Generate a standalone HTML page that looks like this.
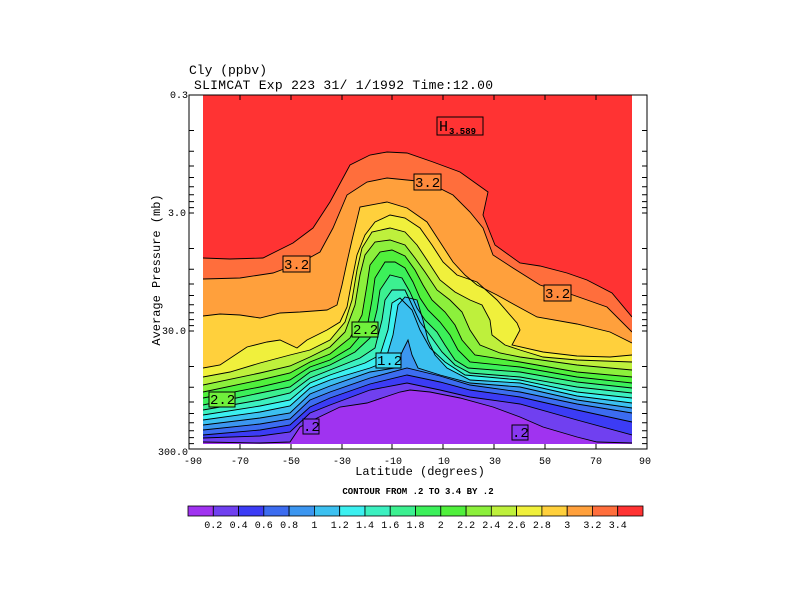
<!DOCTYPE html>
<html><head><meta charset="utf-8"><style>
html,body{margin:0;padding:0;background:#fff;}
svg{display:block;}
text{font-family:"Liberation Mono",monospace;fill:#000;}
</style></head><body>
<svg width="792" height="612" viewBox="0 0 792 612" xmlns="http://www.w3.org/2000/svg">
<defs><clipPath id="c"><rect x="203" y="95" width="429" height="349"/></clipPath></defs>
<g clip-path="url(#c)">
<rect x="203" y="95" width="429" height="349" fill="#ff3333"/>
<polygon fill="#ff6e3c" points="203,258 230,259 263,258 293,243 313,228 330,202 350,165 370,155 387,152 407,153 433,162 460,172 488,192 483,215 495,245 520,263 540,266 567,273 587,280 612,293 632,317 640,450 195,450"/>
<polygon fill="#ffa03c" points="203,279 240,278 273,273 300,263 320,252 333,228 347,195 367,182 387,178 407,180 427,182 453,195 470,212 483,228 493,255 513,268 540,285 573,295 607,307 632,332 640,450 195,450"/>
<polygon fill="#ffd03c" points="203,316 220,314 240,315 260,318 280,313 300,312 327,310 337,305 342,285 347,262 352,240 360,207 387,202 407,208 427,222 440,242 453,262 465,275 477,285 497,295 515,305 537,317 577,324 610,332 632,343 640,450 195,450"/>
<polygon fill="#f0f03c" points="203,368 220,365 247,347 267,342 280,340 297,348 307,340 327,330 340,322 347,307 352,280 357,255 365,235 375,222 390,215 405,218 420,228 432,245 443,262 457,275 477,282 497,300 517,323 520,330 512,345 543,352 577,356 610,357 632,355 640,450 195,450"/>
<polygon fill="#bef03c" points="203,377 230,372 260,363 290,355 310,350 330,340 345,322 352,300 357,270 362,248 372,232 390,228 405,232 417,245 427,260 440,280 455,292 470,300 482,305 490,320 492,335 505,345 520,350 543,357 577,360 632,362 640,450 195,450"/>
<polygon fill="#8cf03c" points="203,385 260,373 290,366 310,357 330,347 345,332 355,305 360,275 365,255 375,242 390,240 405,245 415,258 425,272 437,290 450,300 462,312 470,330 480,345 500,353 520,357 577,365 632,370 640,450 195,450"/>
<polygon fill="#50f03c" points="203,392 260,380 290,373 310,362 330,354 350,338 362,315 367,285 370,265 380,252 392,250 405,256 415,270 423,285 432,300 445,312 455,325 462,340 475,355 520,362 577,372 632,377 640,450 195,450"/>
<polygon fill="#3cf05a" points="203,398 260,387 290,380 310,367 330,360 350,348 367,328 372,300 375,278 385,262 395,262 405,268 413,282 420,298 428,310 440,322 450,335 458,350 470,362 520,367 577,377 632,383 640,450 195,450"/>
<polygon fill="#3cf090" points="203,405 260,393 290,387 310,372 330,365 355,352 370,338 377,310 380,290 390,275 402,278 410,292 417,308 425,320 437,332 445,345 455,360 468,368 520,372 577,382 632,388 640,450 195,450"/>
<polygon fill="#3cf0c0" points="203,410 260,400 290,393 310,378 330,370 360,358 375,348 382,320 385,300 392,290 405,290 412,305 420,322 432,338 442,352 455,365 470,373 520,377 577,387 632,393 640,450 195,450"/>
<polygon fill="#3cf0f0" points="203,415 260,406 290,400 310,383 330,375 365,363 380,355 388,330 392,303 400,298 412,310 420,330 430,348 445,362 465,375 520,380 577,392 632,398 640,450 195,450"/>
<polygon fill="#3cc0f0" points="203,420 260,412 290,406 310,388 330,380 370,368 385,362 393,335 398,305 405,297 417,300 423,320 428,340 435,355 447,368 470,380 520,383 577,396 632,403 640,450 195,450"/>
<polygon fill="#3c96f0" points="203,425 260,418 290,413 310,394 330,386 370,372 395,368 403,350 408,340 412,355 418,368 440,375 470,383 520,387 577,400 632,408 640,450 195,450"/>
<polygon fill="#3c6cf0" points="203,430 260,424 290,419 310,400 330,392 370,378 407,368 440,376 470,385 520,392 577,404 632,413 640,450 195,450"/>
<polygon fill="#3c3cf5" points="203,435 260,430 290,425 310,407 330,398 370,384 407,375 440,382 470,390 520,397 577,410 632,422 640,450 195,450"/>
<polygon fill="#7040f0" points="203,438 260,436 290,432 310,413 330,405 370,390 407,383 440,390 470,397 520,404 577,420 632,435 640,450 195,450"/>
<polygon fill="#a033f0" points="203,442 260,443 290,442 300,427 313,420 340,407 367,403 400,392 410,390 430,392 460,398 493,407 520,417 543,427 577,437 597,442 632,443 640,450 195,450"/>
<g fill="none" stroke="#000" stroke-width="0.9">
<polyline points="203,258 230,259 263,258 293,243 313,228 330,202 350,165 370,155 387,152 407,153 433,162 460,172 488,192 483,215 495,245 520,263 540,266 567,273 587,280 612,293 632,317"/>
<polyline points="203,279 240,278 273,273 300,263 320,252 333,228 347,195 367,182 387,178 407,180 427,182 453,195 470,212 483,228 493,255 513,268 540,285 573,295 607,307 632,332"/>
<polyline points="203,316 220,314 240,315 260,318 280,313 300,312 327,310 337,305 342,285 347,262 352,240 360,207 387,202 407,208 427,222 440,242 453,262 465,275 477,285 497,295 515,305 537,317 577,324 610,332 632,343"/>
<polyline points="203,368 220,365 247,347 267,342 280,340 297,348 307,340 327,330 340,322 347,307 352,280 357,255 365,235 375,222 390,215 405,218 420,228 432,245 443,262 457,275 477,282 497,300 517,323 520,330 512,345 543,352 577,356 610,357 632,355"/>
<polyline points="203,377 230,372 260,363 290,355 310,350 330,340 345,322 352,300 357,270 362,248 372,232 390,228 405,232 417,245 427,260 440,280 455,292 470,300 482,305 490,320 492,335 505,345 520,350 543,357 577,360 632,362"/>
<polyline points="203,385 260,373 290,366 310,357 330,347 345,332 355,305 360,275 365,255 375,242 390,240 405,245 415,258 425,272 437,290 450,300 462,312 470,330 480,345 500,353 520,357 577,365 632,370"/>
<polyline points="203,392 260,380 290,373 310,362 330,354 350,338 362,315 367,285 370,265 380,252 392,250 405,256 415,270 423,285 432,300 445,312 455,325 462,340 475,355 520,362 577,372 632,377"/>
<polyline points="203,398 260,387 290,380 310,367 330,360 350,348 367,328 372,300 375,278 385,262 395,262 405,268 413,282 420,298 428,310 440,322 450,335 458,350 470,362 520,367 577,377 632,383"/>
<polyline points="203,405 260,393 290,387 310,372 330,365 355,352 370,338 377,310 380,290 390,275 402,278 410,292 417,308 425,320 437,332 445,345 455,360 468,368 520,372 577,382 632,388"/>
<polyline points="203,410 260,400 290,393 310,378 330,370 360,358 375,348 382,320 385,300 392,290 405,290 412,305 420,322 432,338 442,352 455,365 470,373 520,377 577,387 632,393"/>
<polyline points="203,415 260,406 290,400 310,383 330,375 365,363 380,355 388,330 392,303 400,298 412,310 420,330 430,348 445,362 465,375 520,380 577,392 632,398"/>
<polyline points="203,420 260,412 290,406 310,388 330,380 370,368 385,362 393,335 398,305 405,297 417,300 423,320 428,340 435,355 447,368 470,380 520,383 577,396 632,403"/>
<polyline points="203,425 260,418 290,413 310,394 330,386 370,372 395,368 403,350 408,340 412,355 418,368 440,375 470,383 520,387 577,400 632,408"/>
<polyline points="203,430 260,424 290,419 310,400 330,392 370,378 407,368 440,376 470,385 520,392 577,404 632,413"/>
<polyline points="203,435 260,430 290,425 310,407 330,398 370,384 407,375 440,382 470,390 520,397 577,410 632,422"/>
<polyline points="203,438 260,436 290,432 310,413 330,405 370,390 407,383 440,390 470,397 520,404 577,420 632,435"/>
<polyline points="203,442 260,443 290,442 300,427 313,420 340,407 367,403 400,392 410,390 430,392 460,398 493,407 520,417 543,427 577,437 597,442 632,443"/>
</g>
</g>

<rect x="189" y="95" width="458" height="354" fill="none" stroke="#000" stroke-width="1"/>
<path stroke="#000" stroke-width="1" fill="none" d="M240,95v5M291,95v5M342,95v5M392,95v5M443,95v5M494,95v5M545,95v5M596,95v5M240,449v-5M291,449v-5M342,449v-5M392,449v-5M443,449v-5M494,449v-5M545,449v-5M596,449v-5
M189,130.5h5M189,151.3h5M189,166h5M189,177.5h5M189,186.8h5M189,194.7h5M189,201.6h5M189,207.6h5M189,213h5M189,248.5h5M189,269.3h5M189,284h5M189,295.5h5M189,304.8h5M189,312.7h5M189,319.6h5M189,325.6h5M189,331h5M189,366.5h5M189,387.3h5M189,402h5M189,413.5h5M189,422.8h5M189,430.7h5M189,437.6h5M189,443.6h5
M647,130.5h-5M647,151.3h-5M647,166h-5M647,177.5h-5M647,186.8h-5M647,194.7h-5M647,201.6h-5M647,207.6h-5M647,213h-5M647,248.5h-5M647,269.3h-5M647,284h-5M647,295.5h-5M647,304.8h-5M647,312.7h-5M647,319.6h-5M647,325.6h-5M647,331h-5M647,366.5h-5M647,387.3h-5M647,402h-5M647,413.5h-5M647,422.8h-5M647,430.7h-5M647,437.6h-5M647,443.6h-5"/>

<g font-size="14">
<rect x="283" y="256" width="27" height="16" fill="#ff8a3c" stroke="#000"/><text x="284" y="269">3.2</text>
<rect x="414" y="174" width="27" height="16" fill="#ff8a3c" stroke="#000"/><text x="415" y="187">3.2</text>
<rect x="544" y="285" width="27" height="16" fill="#ff8a3c" stroke="#000"/><text x="545" y="298">3.2</text>
<rect x="352" y="322" width="26" height="15" fill="#70f03c" stroke="#000"/><text x="353" y="334">2.2</text>
<rect x="376" y="353" width="25" height="15" fill="#3cd8f0" stroke="#000"/><text x="377" y="365">1.2</text>
<rect x="209" y="392" width="26" height="15" fill="#70f03c" stroke="#000"/><text x="210" y="404">2.2</text>
<rect x="303" y="419" width="16" height="15" fill="#8838f0" stroke="#000"/><text x="303" y="431">.2</text>
<rect x="512" y="425" width="16" height="15" fill="#8838f0" stroke="#000"/><text x="512" y="437">.2</text>
<rect x="437" y="117" width="46" height="18" fill="none" stroke="#000"/><text x="439" y="131" font-size="15">H</text><text x="449" y="134" font-size="9" font-weight="bold">3.589</text>
</g>

<text x="189" y="74" font-size="13">Cly (ppbv)</text>
<text x="194" y="89" font-size="13" textLength="299">SLIMCAT Exp 223  31/ 1/1992 Time:12.00</text>
<g font-size="10" text-anchor="end">
<text x="188" y="98">0.3</text>
<text x="186" y="216">3.0</text>
<text x="186" y="334">30.0</text>
<text x="188" y="455">300.0</text>
</g>
<g font-size="10" text-anchor="middle">
<text x="193" y="464">-90</text><text x="240" y="464">-70</text><text x="291" y="464">-50</text><text x="342" y="464">-30</text><text x="393" y="464">-10</text><text x="444" y="464">10</text><text x="495" y="464">30</text><text x="545" y="464">50</text><text x="596" y="464">70</text><text x="645" y="464">90</text>
</g>
<text x="420" y="475" font-size="12" text-anchor="middle">Latitude (degrees)</text>
<text transform="translate(160,270) rotate(-90)" font-size="12" text-anchor="middle">Average Pressure (mb)</text>
<text x="418" y="494" font-size="9" font-weight="bold" text-anchor="middle">CONTOUR FROM .2 TO 3.4 BY .2</text>

<g stroke="#000" stroke-width="0.8">
<rect x="188" y="506" width="25.3" height="10" fill="#a033f0"/>
<rect x="213.3" y="506" width="25.3" height="10" fill="#7040f0"/>
<rect x="238.6" y="506" width="25.3" height="10" fill="#3c3cf5"/>
<rect x="263.8" y="506" width="25.3" height="10" fill="#3c6cf0"/>
<rect x="289.1" y="506" width="25.3" height="10" fill="#3c96f0"/>
<rect x="314.4" y="506" width="25.3" height="10" fill="#3cc0f0"/>
<rect x="339.7" y="506" width="25.3" height="10" fill="#3cf0f0"/>
<rect x="365" y="506" width="25.3" height="10" fill="#3cf0c0"/>
<rect x="390.2" y="506" width="25.3" height="10" fill="#3cf090"/>
<rect x="415.5" y="506" width="25.3" height="10" fill="#3cf05a"/>
<rect x="440.8" y="506" width="25.3" height="10" fill="#50f03c"/>
<rect x="466.1" y="506" width="25.3" height="10" fill="#8cf03c"/>
<rect x="491.3" y="506" width="25.3" height="10" fill="#bef03c"/>
<rect x="516.6" y="506" width="25.3" height="10" fill="#f0f03c"/>
<rect x="541.9" y="506" width="25.3" height="10" fill="#ffd03c"/>
<rect x="567.2" y="506" width="25.3" height="10" fill="#ffa03c"/>
<rect x="592.4" y="506" width="25.3" height="10" fill="#ff6e3c"/>
<rect x="617.7" y="506" width="25.3" height="10" fill="#ff3333"/>
</g>
<g font-size="10" text-anchor="middle">
<text x="213.3" y="528">0.2</text><text x="238.6" y="528">0.4</text><text x="263.8" y="528">0.6</text><text x="289.1" y="528">0.8</text><text x="314.4" y="528">1</text><text x="339.7" y="528">1.2</text><text x="365" y="528">1.4</text><text x="390.2" y="528">1.6</text><text x="415.5" y="528">1.8</text><text x="440.8" y="528">2</text><text x="466.1" y="528">2.2</text><text x="491.3" y="528">2.4</text><text x="516.6" y="528">2.6</text><text x="541.9" y="528">2.8</text><text x="567.2" y="528">3</text><text x="592.4" y="528">3.2</text><text x="617.7" y="528">3.4</text>
</g>
</svg>
</body></html>
